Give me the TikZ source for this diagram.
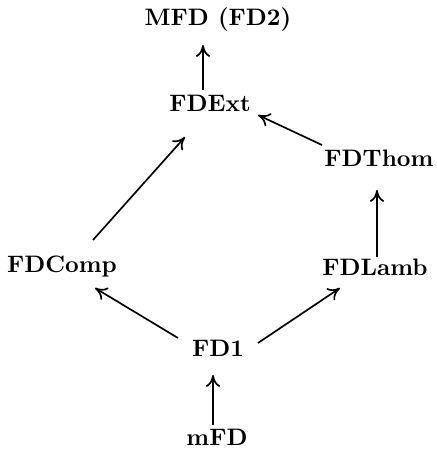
\documentclass[tikz,border=0pt]{standalone}
\usetikzlibrary{arrows.meta}
\begin{document}
\begin{tikzpicture}[x=0.42pt,y=-0.42pt,
  lbl/.style={font=\bfseries, inner sep=0pt},
  arr/.style={-{Computer Modern Rightarrow[length=5pt,width=6pt]}, line width=0.7pt}]
\useasboundingbox (0,0) rectangle (436,455);
\node[lbl] (mfd)  at (218,20)  {MFD (FD2)};
\node[lbl] (ext)  at (210,103) {FDExt};
\node[lbl] (thom) at (379,158) {FDThom};
\node[lbl] (comp) at (62,267)  {FDComp};
\node[lbl] (lamb) at (375,267) {FDLamb};
\node[lbl] (fd1)  at (218,348) {FD1};
\node[lbl] (mfdl) at (217,437) {mFD};
\draw[arr] ([shift={(-7,-13)}]ext.center) -- ([shift={(-15,25)}]mfd.center);
\draw[arr] ([shift={(-57,-13)}]thom.center) -- ([shift={(48,12)}]ext.center);
\draw[arr] ([shift={(2,-10)}]lamb.center) -- ([shift={(-2,32)}]thom.center);
\draw[arr] ([shift={(31,-27)}]comp.center) -- ([shift={(-25,34)}]ext.center);
\draw[arr] ([shift={(-40,-10)}]fd1.center) -- ([shift={(33,21)}]comp.center);
\draw[arr] ([shift={(40,-5)}]fd1.center) -- ([shift={(-35,21)}]lamb.center);
\draw[arr] ([shift={(-4,-12)}]mfdl.center) -- ([shift={(-5,27)}]fd1.center);
\end{tikzpicture}
\end{document}
